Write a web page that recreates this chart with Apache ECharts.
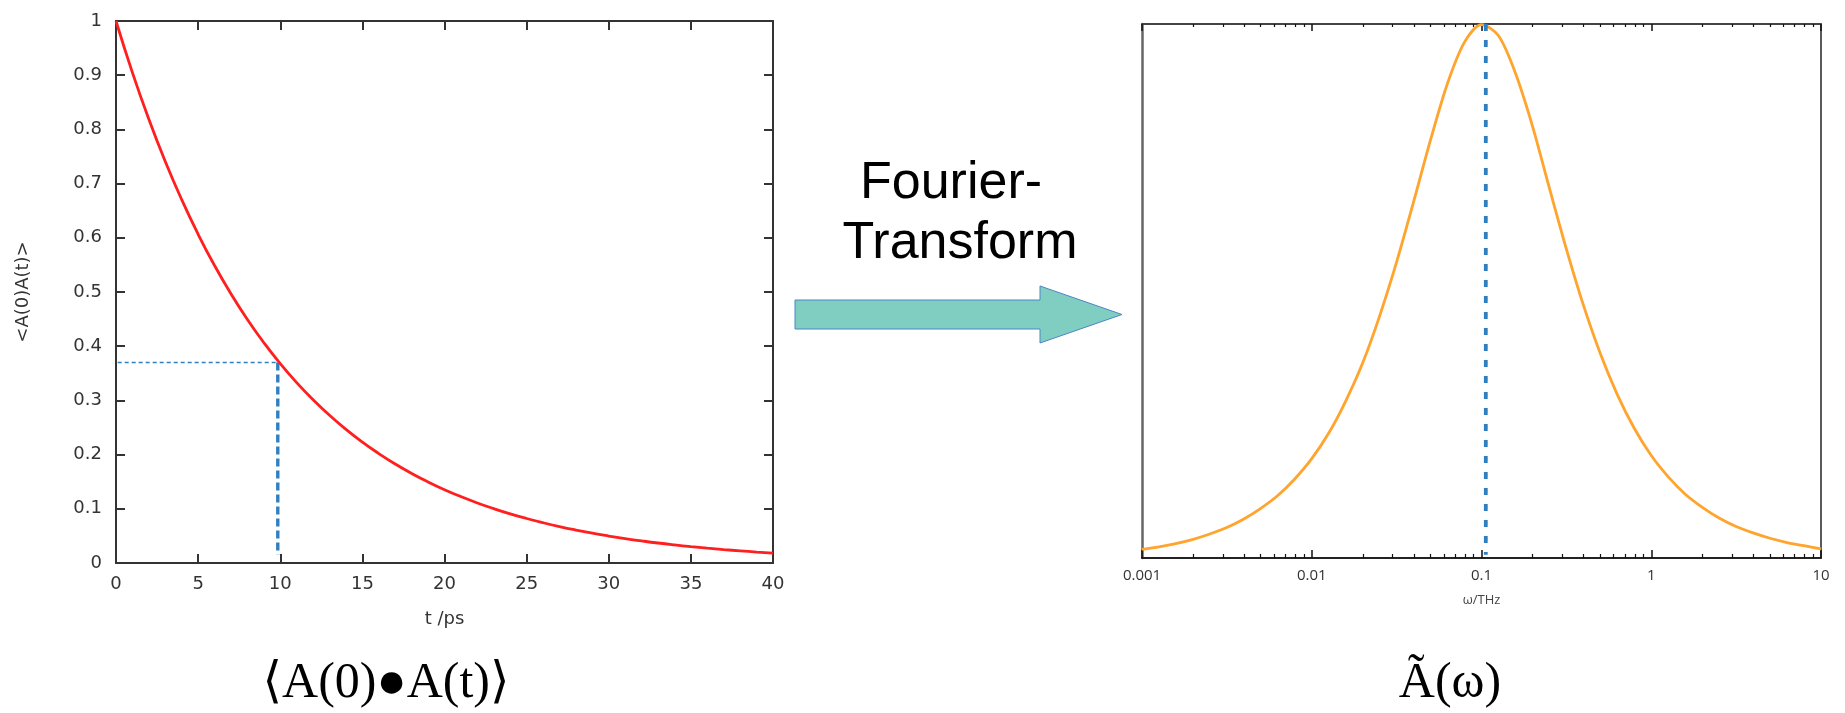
<!DOCTYPE html>
<html>
<head>
<meta charset="utf-8">
<title>Autocorrelation and spectrum</title>
<script src="https://cdn.jsdelivr.net/npm/echarts@6/dist/echarts.min.js"></script>
<style>
  html, body { margin: 0; padding: 0; background: #ffffff; }
  #chart { width: 1845px; height: 713px; }
</style>
</head>
<body>
<div id="chart"></div>
<script>
// ---- autocorrelation <A(0)A(t)> versus t (ps) ----
const timePs = [0,1,2,3,4,5,6,7,8,9,10,11,12,13,14,15,16,17,18,19,20,
                21,22,23,24,25,26,27,28,29,30,31,32,33,34,35,36,37,38,39,40];
const autocorr = [1.0000,0.9048,0.8187,0.7408,0.6703,0.6065,0.5488,0.4966,0.4493,0.4066,0.3679,
                  0.3329,0.3012,0.2725,0.2466,0.2231,0.2019,0.1827,0.1653,0.1496,0.1353,
                  0.1225,0.1108,0.1003,0.0907,0.0821,0.0743,0.0672,0.0608,0.0550,0.0498,
                  0.0450,0.0408,0.0369,0.0334,0.0302,0.0273,0.0247,0.0224,0.0202,0.0183];
// correlation time marker (t ≈ τ, value ≈ 1/e)
const tauPs = 9.85;
const tauValue = 0.37;
const tauGuideStart = -0.75;
const tauGuideBottom = 0.015;

const timeTickLabels = ['0','5','10','15','20','25','30','35','40'];
const corrTickLabels = ['0','0.1','0.2','0.3','0.4','0.5','0.6','0.7','0.8','0.9','1'];

// ---- spectrum Ã(ω) versus ω (THz), log axis ----
const omegaTHz = [0.001,0.00126,0.00158,0.002,0.00251,0.00316,0.00398,0.00501,0.00631,0.00794,
                  0.01,0.0126,0.0158,0.02,0.0251,0.0316,0.0398,0.0501,0.0631,0.0794,
                  0.1,0.126,0.158,0.2,0.251,0.316,0.398,0.501,0.631,0.794,
                  1,1.26,1.58,2,2.51,3.16,3.98,5.01,6.31,7.94,10];
const spectrum = [0.016,0.021,0.027,0.035,0.045,0.057,0.073,0.093,0.117,0.148,
                  0.186,0.234,0.293,0.366,0.453,0.554,0.667,0.783,0.889,0.966,
                  0.999,0.978,0.909,0.808,0.693,0.579,0.474,0.383,0.306,0.243,
                  0.192,0.152,0.120,0.095,0.075,0.059,0.047,0.037,0.029,0.023,0.017];
const peakOmega = 0.106;
const peakGuide = [1.0, 0.006];

const omegaMajorTicks = [0.001, 0.01, 0.1, 1, 10];
const omegaTickLabels = ['0.001', '0.01', '0.1', '1', '10'];
const minorMultipliers = [2, 3, 4, 5, 6, 7, 8, 9];

// minor tick positions of the log axis: 2..9 within every decade
const omegaMinorTicks = [];
omegaMajorTicks.slice(0, -1).forEach(function (d) {
  minorMultipliers.forEach(function (m) { omegaMinorTicks.push(+(d * m).toPrecision(6)); });
});

const dark = '#333333';
const labelFontLeft = { fontFamily: 'DejaVu Sans', fontSize: 18, color: dark };
const labelFontRight = { fontFamily: 'Open Sans', fontSize: 15, color: dark };

function omegaLabel(v) {
  let best = 0, bestDist = Infinity;
  omegaMajorTicks.forEach(function (t, i) {
    const dd = Math.abs(Math.log10(v) - Math.log10(t));
    if (dd < bestDist) { bestDist = dd; best = i; }
  });
  return omegaTickLabels[best];
}

const frameLeft = { show: true, onZero: false, lineStyle: { color: dark, width: 2 } };
const tickLeft = { show: true, inside: true, length: 9, lineStyle: { color: dark, width: 2 } };

const chart = echarts.init(document.getElementById('chart'), null, { renderer: 'canvas' });

chart.setOption({
  animation: false,
  backgroundColor: '#ffffff',
  grid: [
    { left: 116, top: 21, width: 657, height: 542 },
    { left: 1142, top: 24, width: 679, height: 534 }
  ],
  xAxis: [
    { // 0: time axis, bottom
      gridIndex: 0, type: 'value', position: 'bottom', min: 0, max: 40, interval: 5,
      axisLine: frameLeft, axisTick: tickLeft, splitLine: { show: false },
      axisLabel: Object.assign({ margin: 12, formatter: function (v) { return timeTickLabels[Math.round(v / 5)]; } }, labelFontLeft),
      name: 't /ps', nameLocation: 'middle', nameGap: 47,
      nameTextStyle: { fontFamily: 'DejaVu Sans', fontSize: 18, color: dark }
    },
    { // 1: mirrored time axis, top
      gridIndex: 0, type: 'value', position: 'top', min: 0, max: 40, interval: 5,
      axisLine: frameLeft, axisTick: tickLeft, axisLabel: { show: false }, splitLine: { show: false }
    },
    { // 2: frequency axis, bottom, decades
      gridIndex: 1, type: 'log', logBase: 10, position: 'bottom', min: 0.001, max: 10,
      axisLine: { show: true, onZero: false, lineStyle: { color: '#222', width: 2 } },
      axisTick: { show: true, inside: true, length: 8, lineStyle: { color: '#111', width: 1.5 } },
      axisLabel: Object.assign({ margin: 10, formatter: omegaLabel }, labelFontRight),
      splitLine: { show: false },
      name: 'ω/THz', nameLocation: 'middle', nameGap: 36,
      nameTextStyle: { fontFamily: 'Open Sans', fontSize: 13, color: '#444' }
    },
    { // 3: frequency axis, bottom, minor ticks
      gridIndex: 1, type: 'log', logBase: 10, position: 'bottom', min: 0.001, max: 10,
      axisLine: { show: false, onZero: false },
      axisTick: { show: true, inside: true, length: 4, customValues: omegaMinorTicks, lineStyle: { color: '#111', width: 1.2 } },
      axisLabel: { show: false }, splitLine: { show: false }
    },
    { // 4: frequency axis, top, decades
      gridIndex: 1, type: 'log', logBase: 10, position: 'top', min: 0.001, max: 10,
      axisLine: { show: true, onZero: false, lineStyle: { color: '#444', width: 2 } },
      axisTick: { show: true, inside: true, length: 7, lineStyle: { color: '#111', width: 1.5 } },
      axisLabel: { show: false }, splitLine: { show: false }
    },
    { // 5: frequency axis, top, minor ticks
      gridIndex: 1, type: 'log', logBase: 10, position: 'top', min: 0.001, max: 10,
      axisLine: { show: false, onZero: false },
      axisTick: { show: true, inside: true, length: 3, customValues: omegaMinorTicks, lineStyle: { color: '#111', width: 1.2 } },
      axisLabel: { show: false }, splitLine: { show: false }
    }
  ],
  yAxis: [
    { // 0: correlation axis, left
      gridIndex: 0, type: 'value', position: 'left', min: 0, max: 1, interval: 0.1,
      axisLine: frameLeft, axisTick: tickLeft, splitLine: { show: false },
      axisLabel: Object.assign({ margin: 14, formatter: function (v) { return corrTickLabels[Math.round(v * 10)]; } }, labelFontLeft),
      name: '<A(0)A(t)>', nameLocation: 'middle', nameGap: 84,
      nameTextStyle: { fontFamily: 'DejaVu Sans', fontSize: 18, color: dark }
    },
    { // 1: mirrored correlation axis, right
      gridIndex: 0, type: 'value', position: 'right', min: 0, max: 1, interval: 0.1,
      axisLine: frameLeft, axisTick: tickLeft, axisLabel: { show: false }, splitLine: { show: false }
    },
    { // 2: spectrum axis, left (no scale shown)
      gridIndex: 1, type: 'value', position: 'left', min: 0, max: 1,
      axisLine: { show: true, onZero: false, lineStyle: { color: '#666', width: 2.5 } },
      axisTick: { show: false }, axisLabel: { show: false }, splitLine: { show: false }
    },
    { // 3: spectrum axis, right frame
      gridIndex: 1, type: 'value', position: 'right', min: 0, max: 1,
      axisLine: { show: true, onZero: false, lineStyle: { color: '#222', width: 1.5 } },
      axisTick: { show: false }, axisLabel: { show: false }, splitLine: { show: false }
    }
  ],
  series: [
    {
      name: 'autocorrelation', type: 'line', xAxisIndex: 0, yAxisIndex: 0,
      data: timePs.map(function (t, i) { return [t, autocorr[i]]; }),
      smooth: 0.5, showSymbol: false, symbol: 'none', clip: false,
      lineStyle: { color: '#ff1f1f', width: 2.8 }, z: 3
    },
    {
      name: 'tau level', type: 'line', xAxisIndex: 0, yAxisIndex: 0,
      data: [[tauGuideStart, tauValue], [tauPs, tauValue]],
      symbol: 'none', clip: false,
      lineStyle: { color: '#2f7fc1', width: 1.6, type: [4, 3] }, z: 2
    },
    {
      name: 'tau time', type: 'line', xAxisIndex: 0, yAxisIndex: 0,
      data: [[tauPs, tauValue], [tauPs, tauGuideBottom]],
      symbol: 'none', clip: false,
      lineStyle: { color: '#2f7fc1', width: 3.4, type: [8, 4] }, z: 2
    },
    {
      name: 'spectrum', type: 'line', xAxisIndex: 2, yAxisIndex: 2,
      data: omegaTHz.map(function (w, i) { return [w, spectrum[i]]; }),
      smooth: 0.3, showSymbol: false, symbol: 'none', clip: false,
      lineStyle: { color: '#ffa42c', width: 2.8 }, z: 3
    },
    {
      name: 'peak', type: 'line', xAxisIndex: 2, yAxisIndex: 2,
      data: [[peakOmega, peakGuide[0]], [peakOmega, peakGuide[1]]],
      symbol: 'none', clip: false,
      lineStyle: { color: '#2f7fc1', width: 3.8, type: [7, 9] }, z: 4
    }
  ],
  graphic: [
    {
      type: 'text', x: 951, y: 184, silent: true,
      style: { text: 'Fourier-', font: '52px "Liberation Sans", Arial, sans-serif', fill: '#000', align: 'center', verticalAlign: 'middle' }
    },
    {
      type: 'text', x: 960, y: 244, silent: true,
      style: { text: 'Transform', font: '52px "Liberation Sans", Arial, sans-serif', fill: '#000', align: 'center', verticalAlign: 'middle' }
    },
    {
      type: 'polygon', silent: true,
      shape: { points: [[795, 300], [1040, 300], [1040, 286], [1122, 314.5], [1040, 343], [1040, 329], [795, 329]] },
      style: { fill: '#80cdc1', stroke: '#4a86c6', lineWidth: 1 }
    },
    {
      type: 'text', x: 386, y: 684, silent: true,
      style: { text: '⟨A(0)●A(t)⟩', font: '50px "Liberation Serif", "DejaVu Serif", serif', fill: '#000', align: 'center', verticalAlign: 'middle' }
    },
    {
      type: 'text', x: 1450, y: 684, silent: true,
      style: { text: 'Ã(ω)', font: '50px "Liberation Serif", "DejaVu Serif", serif', fill: '#000', align: 'center', verticalAlign: 'middle' }
    }
  ]
});
</script>
</body>
</html>
